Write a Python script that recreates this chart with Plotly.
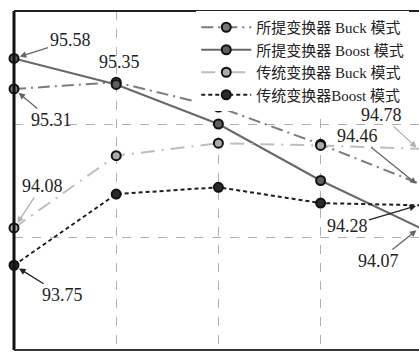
import plotly.graph_objects as go

# Operating points along the horizontal axis
points = [0, 1, 2, 3, 4]

# Efficiency (%) of each converter / mode
prop_buck = [95.31, 95.37, 95.15, 94.82, 94.46]
prop_boost = [95.58, 95.35, 95.00, 94.50, 94.07]
trad_buck = [94.08, 94.72, 94.83, 94.81, 94.78]
trad_boost = [93.75, 94.38, 94.44, 94.30, 94.28]

names = ["所提变换器 Buck 模式", "所提变换器 Boost 模式",
         "传统变换器 Buck 模式", "传统变换器Boost 模式"]

SERIF = "Liberation Serif, 'Times New Roman', 'Noto Sans CJK SC', serif"

fig = go.Figure()

styles = [
    (prop_buck, "#7c7c7c", "#767676", "12px,5px,2px,5px"),
    (prop_boost, "#686868", "#5e5e5e", "solid"),
    (trad_buck, "#bdbdbd", "#ababab", "14px,7px,2px,7px"),
    (trad_boost, "#1e1e1e", "#2a2a2a", "4px,3px"),
]

for (vals, lc, mc, dash), name in zip(styles, names):
    fig.add_trace(go.Scatter(
        x=points, y=vals, name=name, mode="lines+markers",
        line=dict(color=lc, width=2, dash=dash),
        marker=dict(size=9, color=mc, line=dict(color="#111", width=2)),
        cliponaxis=False,
    ))

# Value callouts: (x index, value, tail dx, tail dy, arrow colour)
callouts = [
    (0, prop_boost[0], 56, -18, "#666"),
    (0, prop_buck[0], 37, 31, "#666"),
    (0, trad_buck[0], 28, -42, "#b0b0b0"),
    (0, trad_boost[0], 48, 30, "#222"),
    (4, trad_buck[4], -38, -34, "#b0b0b0"),
    (4, prop_buck[4], -62, -49, "#666"),
    (4, trad_boost[4], -72, 21, "#222"),
    (4, prop_boost[4], -41, 32, "#666"),
]
for xi, v, dx, dy, col in callouts:
    # points at the last position sit on the right edge of the plot area
    if xi == points[-1]:
        xpos, xref, stand = 1.0, "paper", 2
    else:
        xpos, xref, stand = xi, "x", 6
    fig.add_annotation(
        x=xpos, xref=xref, y=v, yref="y", ax=dx, ay=dy, text=f"{v:.2f}",
        showarrow=True, arrowhead=2, arrowsize=1, arrowwidth=1.3,
        arrowcolor=col, standoff=stand,
        font=dict(family=SERIF, size=18, color="#222"),
    )

fig.add_annotation(
    x=1, y=prop_boost[1], text=f"{prop_boost[1]:.2f}", showarrow=False,
    yshift=22, xshift=3, font=dict(family=SERIF, size=18, color="#222"),
)

# Frame lines
fig.add_shape(type="line", xref="paper", yref="paper", x0=0, x1=0, y0=0, y1=1,
              line=dict(color="#111", width=3))
fig.add_shape(type="line", xref="paper", yref="paper", x0=0, x1=1, y0=1, y1=1,
              line=dict(color="#222", width=2))
fig.add_shape(type="line", xref="paper", yref="paper", x0=0, x1=1, y0=0, y1=0,
              line=dict(color="#333", width=2))

fig.update_xaxes(range=[0, 405 / 102.2], showticklabels=False, ticks="",
                 showgrid=True, gridcolor="#b0b0b0", griddash="dash",
                 gridwidth=1, dtick=1, tick0=0, zeroline=False, showline=False)
fig.update_yaxes(range=[93, 96], showticklabels=False, ticks="",
                 showgrid=True, gridcolor="#b0b0b0", griddash="dash",
                 gridwidth=1, dtick=1, tick0=93, zeroline=False, showline=False)

fig.update_layout(
    width=419, height=352,
    margin=dict(l=14, r=0, t=11, b=2),
    plot_bgcolor="white", paper_bgcolor="white",
    showlegend=True,
    legend=dict(
        x=0.45, y=1, xanchor="left", yanchor="top",
        bgcolor="white", borderwidth=0,
        font=dict(family=SERIF, size=15, color="#222"),
        itemwidth=50, tracegroupgap=0,
    ),
)

fig.write_html("out.html")
